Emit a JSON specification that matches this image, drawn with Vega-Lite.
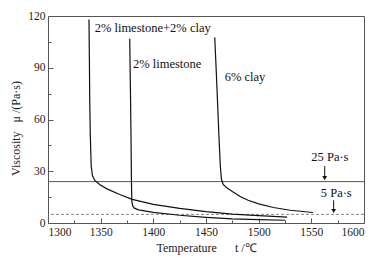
{
  "$schema": "https://vega.github.io/schema/vega-lite/v6.json",
  "width": 316,
  "height": 207,
  "autosize": {"type": "none"},
  "padding": {"left": 48, "top": 16, "right": 28, "bottom": 37},
  "config": {
    "view": {"stroke": "#555", "strokeWidth": 1},
    "font": "Liberation Serif",
    "axis": {
      "grid": false,
      "domain": false,
      "tickColor": "#555",
      "labelColor": "#222",
      "titleColor": "#222",
      "labelFont": "Liberation Serif",
      "titleFont": "Liberation Serif",
      "labelFontSize": 11.5,
      "titleFontSize": 12,
      "titleFontWeight": "normal",
      "format": "d"
    }
  },
  "datasets": {
    "curves": [
      {"series": "A", "i": 1, "T": 1338.9, "mu": 118},
      {"series": "A", "i": 2, "T": 1339.3, "mu": 95},
      {"series": "A", "i": 3, "T": 1339.6, "mu": 71},
      {"series": "A", "i": 4, "T": 1340.2, "mu": 50},
      {"series": "A", "i": 5, "T": 1341.0, "mu": 33},
      {"series": "A", "i": 6, "T": 1342.2, "mu": 27.5},
      {"series": "A", "i": 7, "T": 1344.3, "mu": 24.8},
      {"series": "A", "i": 8, "T": 1349, "mu": 22.3},
      {"series": "A", "i": 9, "T": 1356, "mu": 19.8},
      {"series": "A", "i": 10, "T": 1368, "mu": 16.5},
      {"series": "A", "i": 11, "T": 1380, "mu": 13.7},
      {"series": "A", "i": 12, "T": 1400, "mu": 10.8},
      {"series": "A", "i": 13, "T": 1425, "mu": 8.5},
      {"series": "A", "i": 14, "T": 1450, "mu": 6.6},
      {"series": "A", "i": 15, "T": 1475, "mu": 5.2},
      {"series": "A", "i": 16, "T": 1500, "mu": 4.3},
      {"series": "A", "i": 17, "T": 1527, "mu": 3.4},
      {"series": "B", "i": 1, "T": 1377.6, "mu": 106.8},
      {"series": "B", "i": 2, "T": 1378.2, "mu": 80},
      {"series": "B", "i": 3, "T": 1378.8, "mu": 50},
      {"series": "B", "i": 4, "T": 1379.2, "mu": 25},
      {"series": "B", "i": 5, "T": 1379.6, "mu": 12.5},
      {"series": "B", "i": 6, "T": 1380.4, "mu": 9.9},
      {"series": "B", "i": 7, "T": 1382, "mu": 8.6},
      {"series": "B", "i": 8, "T": 1386, "mu": 7.6},
      {"series": "B", "i": 9, "T": 1400, "mu": 6.2},
      {"series": "B", "i": 10, "T": 1425, "mu": 4.5},
      {"series": "B", "i": 11, "T": 1450, "mu": 3.3},
      {"series": "B", "i": 12, "T": 1475, "mu": 2.4},
      {"series": "B", "i": 13, "T": 1500, "mu": 2.0},
      {"series": "B", "i": 14, "T": 1525, "mu": 1.6},
      {"series": "C", "i": 1, "T": 1458.3, "mu": 107.6},
      {"series": "C", "i": 2, "T": 1459.6, "mu": 90},
      {"series": "C", "i": 3, "T": 1460.9, "mu": 71},
      {"series": "C", "i": 4, "T": 1462.3, "mu": 50},
      {"series": "C", "i": 5, "T": 1463.6, "mu": 33},
      {"series": "C", "i": 6, "T": 1464.6, "mu": 25.5},
      {"series": "C", "i": 7, "T": 1466.3, "mu": 22.3},
      {"series": "C", "i": 8, "T": 1469.4, "mu": 20.6},
      {"series": "C", "i": 9, "T": 1475, "mu": 18.2},
      {"series": "C", "i": 10, "T": 1482, "mu": 15.5},
      {"series": "C", "i": 11, "T": 1490, "mu": 13.2},
      {"series": "C", "i": 12, "T": 1500, "mu": 11.1},
      {"series": "C", "i": 13, "T": 1514, "mu": 9.0},
      {"series": "C", "i": 14, "T": 1530, "mu": 7.4},
      {"series": "C", "i": 15, "T": 1551.6, "mu": 6.1}
    ],
    "labels": [
      {"T": 1344.3, "mu": 113, "text": "2% limestone+2% clay"},
      {"T": 1380.7, "mu": 92, "text": "2% limestone"},
      {"T": 1467.8, "mu": 84.8, "text": "6% clay"},
      {"T": 1550, "mu": 38, "text": "25 Pa·s"},
      {"T": 1559, "mu": 17.4, "text": "5 Pa·s"}
    ],
    "arrows": [
      {"T": 1562.7, "top": 33, "bottom": 26.5, "tip": 26},
      {"T": 1571.2, "top": 13.2, "bottom": 7.5, "tip": 7}
    ],
    "levels": [
      {"mu": 24, "kind": "solid"},
      {"mu": 5, "kind": "dash"}
    ]
  },
  "resolve": {"axis": {"x": "independent", "y": "independent"}},
  "layer": [
    {
      "data": {"name": "levels"},
      "transform": [{"filter": "datum.kind == 'solid'"}],
      "mark": {"type": "rule", "color": "#555", "strokeWidth": 1},
      "encoding": {
        "y": {"field": "mu", "type": "quantitative", "scale": {"domain": [0, 120], "nice": false}, "axis": null}
      }
    },
    {
      "data": {"name": "levels"},
      "transform": [{"filter": "datum.kind == 'dash'"}],
      "mark": {"type": "rule", "color": "#666", "strokeWidth": 0.8, "strokeDash": [3, 2]},
      "encoding": {
        "y": {"field": "mu", "type": "quantitative", "scale": {"domain": [0, 120], "nice": false}, "axis": null}
      }
    },
    {
      "data": {"name": "curves"},
      "mark": {"type": "line", "color": "#111", "strokeWidth": 1.2},
      "encoding": {
        "x": {"field": "T", "type": "quantitative", "scale": {"domain": [1300, 1600], "nice": false, "zero": false},
          "axis": {"values": [1300, 1350, 1400, 1450, 1500, 1550, 1600], "format": "d", "tickSize": -5, "labelPadding": 8, "labelFont": "Liberation Serif", "labelFontSize": 11.5, "title": "Temperature\u00a0\u00a0\u00a0\u00a0\u00a0\u00a0t /℃", "titleFont": "Liberation Serif", "titleFontWeight": "normal", "titleFontSize": 12, "titlePadding": 5, "orient": "bottom"}},
        "y": {"field": "mu", "type": "quantitative", "scale": {"domain": [0, 120], "nice": false},
          "axis": {"values": [0, 30, 60, 90, 120], "format": "d", "tickSize": -5, "labelPadding": 8, "labelFont": "Liberation Serif", "labelFontSize": 11.5, "title": "Viscosity\u00a0\u00a0\u00a0μ /(Pa·s)", "titleFont": "Liberation Serif", "titleFontWeight": "normal", "titleFontSize": 12, "titlePadding": 5, "titleY": 112, "orient": "left"}},
        "detail": {"field": "series"},
        "order": {"field": "i", "type": "quantitative"}
      }
    },
    {
      "data": {"name": "labels"},
      "mark": {"type": "text", "align": "left", "baseline": "middle", "font": "Liberation Serif", "fontSize": 12.5, "color": "#111"},
      "encoding": {
        "x": {"field": "T", "type": "quantitative", "scale": {"domain": [1300, 1600], "nice": false, "zero": false},
          "axis": {"values": [1325, 1375, 1425, 1475, 1525, 1575], "tickSize": -3, "labels": false, "title": null, "orient": "bottom"}},
        "y": {"field": "mu", "type": "quantitative", "scale": {"domain": [0, 120], "nice": false},
          "axis": {"values": [15, 45, 75, 105], "tickSize": -3, "labels": false, "title": null, "orient": "left"}},
        "text": {"field": "text"}
      }
    },
    {
      "data": {"name": "arrows"},
      "mark": {"type": "rule", "color": "#111", "strokeWidth": 1},
      "encoding": {
        "x": {"field": "T", "type": "quantitative", "scale": {"domain": [1300, 1600], "nice": false, "zero": false}, "axis": null},
        "y": {"field": "top", "type": "quantitative", "scale": {"domain": [0, 120], "nice": false}, "axis": null},
        "y2": {"field": "bottom"}
      }
    },
    {
      "data": {"name": "arrows"},
      "mark": {"type": "point", "shape": "triangle-down", "filled": true, "color": "#111", "size": 22, "opacity": 1},
      "encoding": {
        "x": {"field": "T", "type": "quantitative", "scale": {"domain": [1300, 1600], "nice": false, "zero": false}, "axis": null},
        "y": {"field": "tip", "type": "quantitative", "scale": {"domain": [0, 120], "nice": false}, "axis": null}
      }
    }
  ]
}
